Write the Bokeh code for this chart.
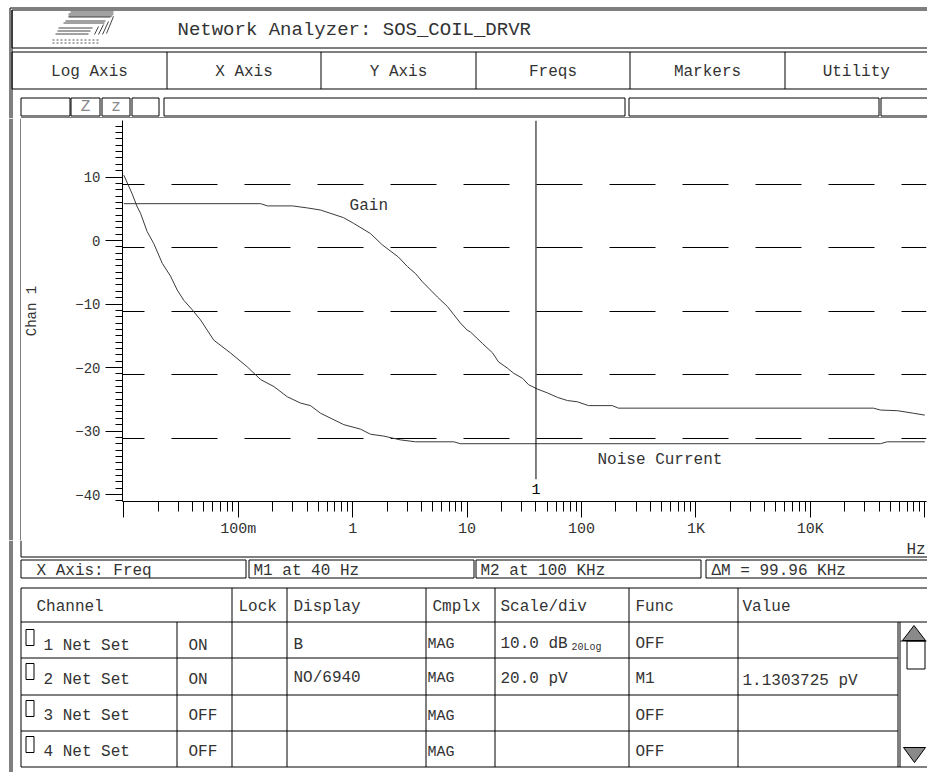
import math

from bokeh.core.properties import value
from bokeh.embed import file_html
from bokeh.layouts import column, row
from bokeh.models import CustomJSTickFormatter, FixedTicker, Range1d, SingleIntervalTicker
from bokeh.plotting import figure
from bokeh.resources import INLINE

# ---------------------------------------------------------------- data
# Channel 1 "Gain" trace: frequency (Hz) and level on the Chan 1 scale (dB)
gain_freq = [0.01, 0.157, 0.18, 0.298, 0.403, 0.524, 0.832, 1.02, 1.43, 1.82,
             2.51, 3.01, 3.54, 4.07, 5.51, 6.74, 7.6, 8.75, 10.0, 10.7,
             13.6, 16.7, 18.8, 22.5, 25.5, 30.5, 34.4, 41.2, 50.4, 61.6,
             75.3, 92.1, 115, 186, 210, 35600, 41000, 57700, 79600, 100000]
gain_db = [5.8, 5.8, 5.45, 5.45, 5.13, 4.8, 3.6, 2.7, 1.1, -0.7,
           -2.6, -4.1, -5.2, -6.5, -8.9, -10.4, -11.6, -13.0, -14.1, -14.4,
           -16.2, -17.7, -19.1, -20.1, -20.9, -21.7, -22.7, -23.4, -24.0, -24.7,
           -25.2, -25.4, -26.0, -26.0, -26.4, -26.4, -26.7, -26.8, -27.2, -27.5]

# Channel 2 "Noise Current" trace, drawn against the same displayed scale
noise_freq = [0.01, 0.0118, 0.0131, 0.014, 0.016, 0.0183, 0.0217, 0.0256, 0.0293, 0.0334,
              0.0396, 0.0468, 0.0535, 0.0612, 0.0855, 0.120, 0.157, 0.205, 0.268, 0.350,
              0.428, 0.524, 0.662, 0.837, 1.17, 1.43, 1.87, 2.62, 3.54, 7.65,
              8.75, 41000, 46900, 100000]
noise_db = [10.3, 7.4, 5.3, 4.3, 1.4, -0.5, -3.6, -5.6, -7.8, -9.4,
            -10.9, -12.5, -14.1, -15.7, -17.7, -19.9, -21.9, -23.0, -24.6, -25.6,
            -26.0, -27.2, -28.1, -29.0, -29.7, -30.5, -30.8, -31.4, -31.7, -31.7,
            -32.0, -32.0, -31.7, -31.7]

# frequency axis decades and their labels
x_tick_vals = [0.01, 0.1, 1, 10, 100, 1000, 10000, 100000]
x_tick_labels = ["", "100m", "1", "10", "100", "1K", "10K", ""]

# vertical scale: 10 dB per division, 6 divisions
y_per_div = 10
y_divisions = 6
y_top = 18.9

# markers
m1_freq = 40
m2_freq = 100000

title_text = "Network Analyzer: SOS_COIL_DRVR"
menu_items = ["Log Axis", "X Axis", "Y Axis", "Freqs", "Markers", "Utility"]

table_headers = ["Channel", "Lock", "Display", "Cmplx", "Scale/div", "Func", "Value"]
chan_names = ["1 Net Set", "2 Net Set", "3 Net Set", "4 Net Set"]
chan_state = ["ON", "ON", "OFF", "OFF"]
chan_display = ["B", "NO/6940", "", ""]
chan_cmplx = ["MAG", "MAG", "MAG", "MAG"]
chan_scale = ["10.0 dB", "20.0 pV", "", ""]
chan_func = ["OFF", "M1", "OFF", "OFF"]
chan_value = ["", "1.1303725 pV", "", ""]

# ---------------------------------------------------------------- styling
FONT = "Liberation Mono"
INK = "#333333"
W = 927
HDR_H = 118          # page rows 0..118
MID_Y0, MID_Y1 = 118, 540
FTR_Y1 = 772
STRIP_W = 21


def no_align(p):
    # keep every panel at its own geometry instead of lining frames up
    if "frame_align" in p.properties():
        p.frame_align = False
    return p


def ui_fig(width, y0, y1, x0=0):
    p = figure(width=width, height=y1 - y0,
               x_range=Range1d(x0, x0 + width), y_range=Range1d(y1, y0),
               x_axis_location=None, y_axis_location=None,
               toolbar_location=None, output_backend="svg",
               min_border=0, outline_line_color=None,
               background_fill_color="white", border_fill_color="white")
    p.grid.visible = False
    return no_align(p)


def lines(p, segs, color="black", width=1):
    p.segment(x0=[s[0] for s in segs], y0=[s[1] for s in segs],
              x1=[s[2] for s in segs], y1=[s[3] for s in segs],
              line_color=color, line_width=width)


def boxes(p, bx):
    p.quad(left=[b[0] for b in bx], right=[b[1] for b in bx],
           top=[b[2] for b in bx], bottom=[b[3] for b in bx],
           fill_color=None, line_color="black", line_width=1)


def texts(p, xs, ys, ts, size="16px", align="left", color=INK, angle=0):
    p.text(x=xs, y=ys, text=ts, text_font=value(FONT), text_font_size=value(size),
           text_color=color, text_align=align, text_baseline="middle", angle=angle)


def fmt_hz(f):
    if f >= 1000:
        return f"{f / 1000:.2f}".rstrip("0").rstrip(".") + " KHz"
    return f"{f:g} Hz"


# ---------------------------------------------------------------- header
hdr = ui_fig(W, 0, HDR_H)
lines(hdr, [(9.5, 7.5, 930, 7.5), (9.5, 7.5, 9.5, HDR_H), (11.5, 9.5, 11.5, HDR_H),
            (20.5, 117.5, 930, 117.5)])
boxes(hdr, [(11.5, 930, 9.5, 47.5), (11.5, 930, 51.5, 88.5)])
menu_edges = [11.5, 166.5, 320.5, 475.5, 629.5, 784.5, 930]
lines(hdr, [(x, 51.5, x, 88.5) for x in menu_edges[1:-1]])
texts(hdr, [(a + b) / 2 for a, b in zip(menu_edges[:-1], menu_edges[1:-1] + [927])],
      [71] * len(menu_items), menu_items, align="center")
texts(hdr, [177], [29.5], [title_text], size="19px")
boxes(hdr, [(20.5, 69.5, 97.5, 115.5), (70.5, 99.5, 97.5, 115.5),
            (101.5, 129.5, 97.5, 115.5), (131.5, 158.5, 97.5, 115.5),
            (163.5, 624.5, 97.5, 115.5), (628.5, 878.5, 97.5, 115.5),
            (880.5, 930, 97.5, 115.5)])
texts(hdr, [85, 115.5], [106.5, 106.5], ["Z", "z"], align="center", color="#888888")
# logo: stacked rules with a slanted tail
logo = [(70, 11.5, 113, 11.5), (68, 13.5, 113, 13.5), (68, 15.5, 112, 15.5),
        (68, 16.5, 110, 16.5), (65, 20.5, 105, 20.5), (63, 22.5, 104, 22.5),
        (58, 27.5, 92, 27.5), (57, 30.5, 90, 30.5), (55, 33.5, 88, 33.5),
        (113, 16, 106, 33), (108, 21, 102, 34), (103, 24, 98, 34), (98, 26, 94, 34)]
lines(hdr, logo, color="#444444")
hdr.segment(x0=[52, 52], y0=[39.5, 42.5], x1=[98, 98], y1=[39.5, 42.5],
            line_color="#555555", line_dash="2 2")

# ---------------------------------------------------------------- left strip
strip = ui_fig(STRIP_W, MID_Y0, MID_Y1)
lines(strip, [(9.5, MID_Y0, 9.5, MID_Y1), (11.5, MID_Y0, 11.5, MID_Y1),
              (20.5, MID_Y0, 20.5, MID_Y1)])

# ---------------------------------------------------------------- chart
AX0_PAGE, AX1_PAGE = 123.3, 924.3        # page x of first / last decade
FRAME_L_PAGE, FRAME_R_PAGE = 122, 926
FRAME_T_PAGE, FRAME_B_PAGE = 120, 502
lf0, lf1 = math.log10(x_tick_vals[0]), math.log10(x_tick_vals[-1])
px_dec = (AX1_PAGE - AX0_PAGE) / (lf1 - lf0)
f_lo = 10 ** (lf0 - (AX0_PAGE - FRAME_L_PAGE) / px_dec)
f_hi = 10 ** (lf1 + (FRAME_R_PAGE - AX1_PAGE) / px_dec)
y_bot = y_top - y_per_div * y_divisions

chart = figure(width=W - STRIP_W, height=MID_Y1 - MID_Y0, x_axis_type="log",
               x_range=Range1d(f_lo, f_hi), y_range=Range1d(y_bot, y_top),
               min_border_left=FRAME_L_PAGE - STRIP_W, min_border_right=W - FRAME_R_PAGE,
               min_border_top=FRAME_T_PAGE - MID_Y0, min_border_bottom=MID_Y1 - FRAME_B_PAGE,
               toolbar_location=None, output_backend="svg", outline_line_color=None,
               background_fill_color="white", border_fill_color="white")
no_align(chart)

xa = chart.xaxis[0]
xa.ticker = FixedTicker(ticks=x_tick_vals,
                        minor_ticks=[m * 10 ** k for k in range(round(lf0), round(lf1))
                                     for m in range(2, 10)])
xa.formatter = CustomJSTickFormatter(args=dict(vals=x_tick_vals, labels=x_tick_labels), code="""
    const i = vals.findIndex(v => Math.abs(Math.log10(v) - Math.log10(tick)) < 1e-6);
    return i < 0 ? "" : labels[i];
""")
xa.major_tick_out = 16
xa.major_tick_in = 0
xa.minor_tick_out = 10
xa.minor_tick_in = 0
xa.major_label_standoff = 3

ya = chart.yaxis[0]
ya.ticker = SingleIntervalTicker(interval=y_per_div, num_minor_ticks=10)
ya.major_tick_out = 17
ya.major_tick_in = 0
ya.minor_tick_out = 7
ya.minor_tick_in = 0
ya.major_label_standoff = 5
ya.axis_label = "Chan 1"
ya.axis_label_standoff = 32
ya.axis_label_text_font = FONT
ya.axis_label_text_font_size = "14px"
ya.axis_label_text_font_style = "normal"
ya.axis_label_text_color = INK

for ax in (xa, ya):
    ax.axis_line_color = "black"
    ax.major_tick_line_color = "black"
    ax.minor_tick_line_color = "black"
    ax.major_label_text_font = FONT
    ax.major_label_text_font_size = "15px"
    ax.major_label_text_color = INK
ya.major_label_text_font_size = "14px"

chart.xgrid.visible = False
chart.ygrid.ticker = FixedTicker(ticks=[y_bot + y_per_div * k for k in range(1, y_divisions)])
chart.ygrid.grid_line_color = "black"
chart.ygrid.grid_line_width = 1
chart.ygrid.grid_line_dash = "46 27"
chart.ygrid.grid_line_dash_offset = 24

chart.line(gain_freq, gain_db, line_color="#3a3a3a", line_width=1)
chart.line(noise_freq, noise_db, line_color="#3a3a3a", line_width=1)

# marker 1 cursor and its tag
chart.segment(x0=[m1_freq], y0=[y_bot + 3.5], x1=[m1_freq], y1=[y_top],
              line_color="black", line_width=1)
chart.text(x=[m1_freq], y=[y_bot + 1.9], text=["1"], text_font=value(FONT),
           text_font_size=value("15px"), text_color="black",
           text_align="center", text_baseline="middle")

chart.text(x=[0.94], y=[5.4], text=["Gain"], text_font=value(FONT),
           text_font_size=value("16px"), text_color=INK, text_baseline="middle")
chart.text(x=[138], y=[-34.5], text=["Noise Current"], text_font=value(FONT),
           text_font_size=value("16px"), text_color=INK, text_baseline="middle")

# ---------------------------------------------------------------- footer
ftr = ui_fig(W, MID_Y1, FTR_Y1)
lines(ftr, [(9.5, MID_Y1, 9.5, FTR_Y1), (11.5, MID_Y1, 11.5, FTR_Y1),
            (20.5, MID_Y1, 20.5, 556.5), (20.5, 556.5, 930, 556.5)])
texts(ftr, [906], [549], ["Hz"])

# marker read-out bar
boxes(ftr, [(20.5, 245.5, 559.5, 577.5), (248.5, 473.5, 559.5, 577.5),
            (475.5, 700.5, 559.5, 577.5), (705.5, 930, 559.5, 577.5)])
texts(ftr, [36, 253, 480, 711], [570.5] * 4,
      ["X Axis: Freq", f"M1 at {fmt_hz(m1_freq)}", f"M2 at {fmt_hz(m2_freq)}",
       f"\u0394M = {fmt_hz(m2_freq - m1_freq)}"])

# channel table
T_TOP, T_HEAD, T_BOT = 587.5, 621.5, 766.5
row_lines = [657.5, 694.5, 730.5]
head_cols = [231.5, 286.5, 425.5, 494.5, 628.5, 737.5]
boxes(ftr, [(20.5, 930, T_TOP, T_BOT)])
lines(ftr, [(20.5, T_HEAD, 930, T_HEAD)] + [(20.5, y, 897.5, y) for y in row_lines]
      + [(x, T_TOP, x, T_BOT) for x in head_cols]
      + [(176.5, T_HEAD, 176.5, T_BOT), (897.5, T_HEAD, 897.5, T_BOT),
         (899.5, T_HEAD, 899.5, T_BOT)])
texts(ftr, [36, 238, 293, 432, 500, 635, 742], [606.5] * 7, table_headers)

row_y = [645, 679, 715.5, 751.5]
box_top = [629, 663, 700, 736]
boxes(ftr, [(25.5, 33.5, t, t + 16) for t in box_top])
texts(ftr, [43] * 4, row_y, chan_names)
texts(ftr, [188] * 4, row_y, chan_state)
texts(ftr, [293] * 4, [644, 677, 715.5, 751.5], chan_display)
texts(ftr, [427] * 4, [644, 678, 715.5, 751.5], chan_cmplx, size="15px")
texts(ftr, [500] * 4, [643.5, 678, 715.5, 751.5], chan_scale)
texts(ftr, [571], [647], ["20Log"], size="10px")
texts(ftr, [635] * 4, [643.5, 678, 715.5, 751.5], chan_func)
texts(ftr, [742] * 4, [643.5, 680, 715.5, 751.5], chan_value)

# scroll bar
ftr.patches(xs=[[902, 913.5, 925], [903, 925, 914]], ys=[[640, 625, 640], [747, 747, 762]],
            fill_color="#8a8a8a", line_color="black", line_width=1)
lines(ftr, [(900, 640.5, 926, 640.5)])
boxes(ftr, [(906.5, 924.5, 640.5, 668.5)])

layout = column(hdr, row(strip, chart, spacing=0), ftr, spacing=0)
open("out.html", "w").write(file_html(layout, INLINE))
